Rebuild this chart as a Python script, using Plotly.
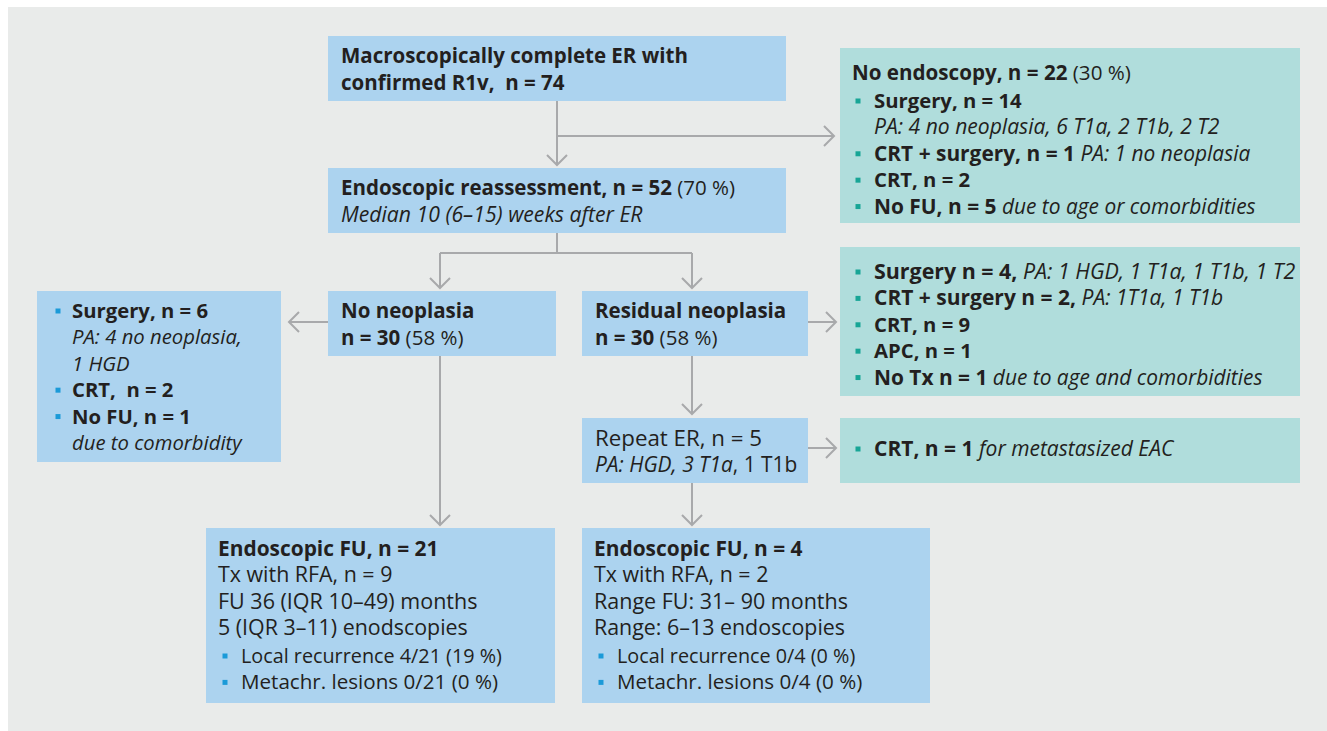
import plotly.graph_objects as go

# ---------------- data (text content) ----------------
top_lines = ["<b>Macroscopically complete ER with</b>", "<b>confirmed R1v,  n = 74</b>"]
reassess_lines = ["<b>Endoscopic reassessment, n = 52</b> (70 %)", "<i>Median 10 (6–15) weeks after ER</i>"]
noendo_head = ["<b>No endoscopy, n = 22</b> (30 %)"]
noendo_items = ["<b>Surgery, n = 14</b>",
                "<i>PA: 4 no neoplasia, 6 T1a, 2 T1b, 2 T2</i>",
                "<b>CRT + surgery, n = 1</b> <i>PA: 1 no neoplasia</i>",
                "<b>CRT, n = 2</b>",
                "<b>No FU, n = 5</b> <i>due to age or comorbidities</i>"]
noendo_bullets = [True, False, True, True, True]
noneo_lines = ["<b>No neoplasia</b>", "<b>n = 30</b> (58 %)"]
resid_lines = ["<b>Residual neoplasia</b>", "<b>n = 30</b> (58 %)"]
left_items = ["<b>Surgery, n = 6</b>", "<i>PA: 4 no neoplasia,</i>", "<i>1 HGD</i>",
              "<b>CRT,  n = 2</b>", "<b>No FU, n = 1</b>", "<i>due to comorbidity</i>"]
left_bullets = [True, False, False, True, True, False]
resid_items = ["<b>Surgery n = 4,</b> <i>PA: 1 HGD, 1 T1a, 1 T1b, 1 T2</i>",
               "<b>CRT + surgery n = 2,</b> <i>PA: 1T1a, 1 T1b</i>",
               "<b>CRT, n = 9</b>",
               "<b>APC, n = 1</b>",
               "<b>No Tx n = 1</b> <i>due to age and comorbidities</i>"]
resid_bullets = [True, True, True, True, True]
repeat_lines = ["Repeat ER, n = 5", "<i>PA: HGD, 3 T1a</i>, 1 T1b"]
repeat_items = ["<b>CRT, n = 1</b> <i>for metastasized EAC</i>"]
repeat_bullets = [True]
fu1_lines = ["<b>Endoscopic FU, n = 21</b>", "Tx with RFA, n = 9", "FU 36 (IQR 10–49) months",
             "5 (IQR 3–11) enodscopies"]
fu1_items = ["Local recurrence 4/21 (19 %)", "Metachr. lesions 0/21 (0 %)"]
fu2_lines = ["<b>Endoscopic FU, n = 4</b>", "Tx with RFA, n = 2", "Range FU: 31– 90 months",
             "Range: 6–13 endoscopies"]
fu2_items = ["Local recurrence 0/4 (0 %)", "Metachr. lesions 0/4 (0 %)"]
fu_bullets = [True, True]

# ---------------- layout geometry / styles ----------------
W, H = 1327, 731
BLUE = "#acd3ef"
TEAL = "#b0dddc"
BG = "#e9ebea"
ARROW = "#a8a9ab"
TXT = "#231f20"
BUL_BLUE = "#1b9ad8"
BUL_TEAL = "#17a596"
FONT = "Open Sans"

boxes = {
    "top":    dict(x0=328, x1=786, y0=36, y1=101, c=BLUE),
    "reas":   dict(x0=328, x1=786, y0=168, y1=233, c=BLUE),
    "noendo": dict(x0=840, x1=1300, y0=48, y1=223, c=TEAL),
    "noneo":  dict(x0=328, x1=556, y0=291, y1=356, c=BLUE),
    "resid":  dict(x0=582, x1=808, y0=291, y1=356, c=BLUE),
    "left":   dict(x0=37, x1=281, y0=291, y1=462, c=BLUE),
    "ritems": dict(x0=840, x1=1300, y0=247, y1=396, c=TEAL),
    "repeat": dict(x0=582, x1=808, y0=418, y1=483, c=BLUE),
    "rcrt":   dict(x0=840, x1=1300, y0=418, y1=483, c=TEAL),
    "fu1":    dict(x0=206, x1=555, y0=528, y1=703, c=BLUE),
    "fu2":    dict(x0=582, x1=930, y0=528, y1=703, c=BLUE),
}

shapes = []
annos = []

shapes.append(dict(type="rect", x0=8, x1=W + 20, y0=7, y1=H + 20, fillcolor=BG, line_width=0, layer="below"))
for b in boxes.values():
    shapes.append(dict(type="rect", x0=b["x0"], x1=b["x1"], y0=b["y0"], y1=b["y1"],
                       fillcolor=b["c"], line_width=0, layer="below"))


def block(box, ls, y_first, size, dx=12, bullets=None, bcolor=None, bx=18, glyph=None):
    """One multi-line annotation; y_first is the centre of the first line.
    `size` fixes the line spacing; `glyph` optionally sets per-line glyph sizes."""
    b = boxes[box]
    ls_px = 1.3 * size  # plotly line spacing
    n = len(ls)
    if glyph:
        ls = [f'<span style="font-size:{g}px">{s}</span>' if g else s for s, g in zip(ls, glyph)]
    annos.append(dict(x=b["x0"] + dx, y=y_first + (n - 1) * ls_px / 2, text="<br>".join(ls),
                      showarrow=False, xanchor="left", yanchor="middle", align="left",
                      borderpad=0,
                      font=dict(family=FONT, size=size, color=TXT), xref="x", yref="y"))
    if bullets:
        for i, has in enumerate(bullets):
            if has:
                yy = y_first + i * ls_px + 1
                shapes.append(dict(type="rect", x0=b["x0"] + bx - 2.5, x1=b["x0"] + bx + 2.5,
                                   y0=yy - 2.5, y1=yy + 2.5, fillcolor=bcolor, line_width=0))


block("top", top_lines, 55, 20.5)
block("reas", reassess_lines, 187, 20.5, glyph=[None, 21.2])
block("noendo", noendo_head, 72, 20.6, dx=11)
block("noendo", noendo_items, 100, 20.3, dx=33, bullets=noendo_bullets, bcolor=BUL_TEAL,
      glyph=[None, 21.1, 20.9, None, 20.9])
block("noneo", noneo_lines, 310, 20.5)
block("resid", resid_lines, 310, 20.5)
block("left", left_items, 310, 20.3, dx=34, bullets=left_bullets, bcolor=BUL_BLUE, bx=21)
block("ritems", resid_items, 271, 20.3, dx=33, bullets=resid_bullets, bcolor=BUL_TEAL,
      glyph=[21.4, 21.0, None, None, 20.9])
block("repeat", repeat_lines, 437, 20.3, glyph=[22.3, 20.9])
block("rcrt", repeat_items, 448, 21.0, dx=33, bullets=repeat_bullets, bcolor=BUL_TEAL)
block("fu1", fu1_lines, 548, 20.3, dx=11, glyph=[20.9, 21.4, 21.5, 21.4])
block("fu1", fu1_items, 655, 20.3, dx=34, bullets=fu_bullets, bcolor=BUL_BLUE, bx=19,
      glyph=[19.8, 20.6])
block("fu2", fu2_lines, 548, 20.3, dx=11, glyph=[20.9, 21.4, 21.5, 21.4])
block("fu2", fu2_items, 655, 20.3, dx=34, bullets=fu_bullets, bcolor=BUL_BLUE, bx=19,
      glyph=[19.8, 20.6])


# ---------------- connectors ----------------
def seg(x0, y0, x1, y1):
    shapes.append(dict(type="line", x0=x0, y0=y0, x1=x1, y1=y1, line=dict(color=ARROW, width=2)))


def head(x, y, d, s=10):
    if d == "down":
        p = f"M {x-s},{y-s} L {x},{y} L {x+s},{y-s}"
    elif d == "right":
        p = f"M {x-s},{y-s} L {x},{y} L {x-s},{y+s}"
    else:
        p = f"M {x+s},{y-s} L {x},{y} L {x+s},{y+s}"
    shapes.append(dict(type="path", path=p, line=dict(color=ARROW, width=2)))


def arrow(x0, y0, x1, y1, d):
    seg(x0, y0, x1, y1)
    head(x1, y1, d)


A, Bx = boxes["top"], boxes["reas"]
cx = 557
arrow(cx, A["y1"], cx, Bx["y0"] - 3, "down")
arrow(cx, 136, boxes["noendo"]["x0"] - 6, 136, "right")
seg(cx, Bx["y1"], cx, 253)
seg(440, 253, 692, 253)
arrow(440, 253, 440, boxes["noneo"]["y0"] - 3, "down")
arrow(692, 253, 692, boxes["resid"]["y0"] - 3, "down")
arrow(boxes["noneo"]["x0"], 322, boxes["left"]["x1"] + 8, 322, "left")
arrow(boxes["resid"]["x1"], 322, boxes["ritems"]["x0"] - 4, 322, "right")
arrow(692, boxes["resid"]["y1"], 692, boxes["repeat"]["y0"] - 4, "down")
arrow(boxes["repeat"]["x1"], 448, boxes["rcrt"]["x0"] - 4, 448, "right")
arrow(440, boxes["noneo"]["y1"], 440, boxes["fu1"]["y0"] - 3, "down")
arrow(692, boxes["repeat"]["y1"], 692, boxes["fu2"]["y0"] - 3, "down")

fig = go.Figure()
fig.update_layout(
    width=W, height=H, margin=dict(l=0, r=0, t=0, b=0),
    paper_bgcolor="white", plot_bgcolor="white",
    xaxis=dict(range=[0, W], visible=False, fixedrange=True),
    yaxis=dict(range=[H, 0], visible=False, fixedrange=True),
    shapes=shapes, annotations=annos, showlegend=False,
)
fig.write_html("out.html", config={"displayModeBar": False},
               post_script="document.body.style.margin='0';document.body.style.overflow='hidden';")
